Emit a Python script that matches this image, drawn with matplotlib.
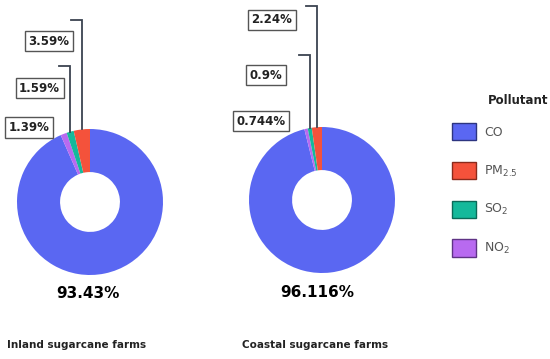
import numpy as np
import matplotlib
matplotlib.use("Agg")
import matplotlib.pyplot as plt
from matplotlib.patches import Patch

plt.rcParams['mathtext.default'] = 'regular'

# pollutant shares (%)
pollutants = ['CO', 'PM$_{2.5}$', 'SO$_2$', 'NO$_2$']
inland = [93.43, 3.59, 1.59, 1.39]
coastal = [96.116, 2.24, 0.9, 0.744]
inland_labels = ['93.43%', '3.59%', '1.59%', '1.39%']
coastal_labels = ['96.116%', '2.24%', '0.9%', '0.744%']
titles = ['Inland sugarcane farms', 'Coastal sugarcane farms']

colors = ['#5a67f2', '#f4523b', '#14b99b', '#b86af0']
edges = ['#2d3580', '#8a2a1c', '#0b6a58', '#5f3385']
line_col = '#3b4350'

W, H = 550, 359
fig = plt.figure(figsize=(W / 100, H / 100), dpi=100)

# pixel layout for each donut: centre x, centre y, radius
layout = [(90, 202, 73), (322, 200, 73)]
# per donut: heights of the leader line tops, and box centres (pie units)
leader_tops = [[2.49, 1.86], [2.66, 1.99]]
box_pos = [[(-0.56, 2.20), (-0.69, 1.56), (-0.84, 1.02)],
           [(-0.69, 2.47), (-0.77, 1.71), (-0.84, 1.08)]]
big_pos = [(-0.03, -1.25), (-0.07, -1.27)]
title_x = [7, 242]

for i, (vals, labs) in enumerate([(inland, inland_labels), (coastal, coastal_labels)]):
    cx, cy, r = layout[i]
    ax = fig.add_axes([(cx - r) / W, (H - cy - r) / H, 2 * r / W, 2 * r / H])
    # clockwise from 12 o'clock: small slices end up just left of the top
    order = [0, 3, 2, 1]
    v = [vals[k] for k in order]
    c = [colors[k] for k in order]
    wedges, _ = ax.pie(v, colors=c, startangle=90, counterclock=False,
                       radius=1, wedgeprops=dict(width=0.59, linewidth=0))
    ax.set_xlim(-1, 1)
    ax.set_ylim(-1, 1)
    ax.set_aspect('equal')
    ax.axis('off')

    # leader lines for PM2.5 and SO2 (going up from the ring, then left)
    for j, k in enumerate([1, 2]):
        w = wedges[order.index(k)]
        th = np.deg2rad((w.theta1 + w.theta2) / 2)
        x0, y0 = np.cos(th), np.sin(th)
        top = leader_tops[i][j]
        ax.plot([x0, x0, x0 - 0.15], [y0, top, top], color=line_col,
                lw=1.3, clip_on=False, solid_joinstyle='miter')

    for j, k in enumerate([1, 2, 3]):
        bx, by = box_pos[i][j]
        ax.text(bx, by, labs[k], ha='center', va='center', fontsize=8.5,
                fontweight='bold', color='#222222', clip_on=False,
                bbox=dict(boxstyle='square,pad=0.3', fc='white',
                          ec='#555555', lw=1))

    ax.text(big_pos[i][0], big_pos[i][1], labs[0], ha='center', va='center',
            fontsize=11, fontweight='bold', color='black', clip_on=False)

    fig.text(title_x[i] / W, 1 - 345 / H, titles[i], ha='left', va='center',
             fontsize=7.5, fontweight='bold', color='#222222')

handles = [Patch(facecolor=colors[k], edgecolor=edges[k], lw=1) for k in range(4)]
fig.legend(handles, pollutants, loc='upper left',
           bbox_to_anchor=(452 / W, 1 - 123 / H), frameon=False,
           fontsize=9, handlelength=1.9, handleheight=1.75,
           labelspacing=1.72, handletextpad=0.65, borderpad=0,
           borderaxespad=0, labelcolor='#555555')
fig.text(518 / W, 1 - 100 / H, 'Pollutant', ha='center', va='center',
         fontsize=8.5, fontweight='bold', color='#222222')

fig.savefig('out.png', dpi=100)
